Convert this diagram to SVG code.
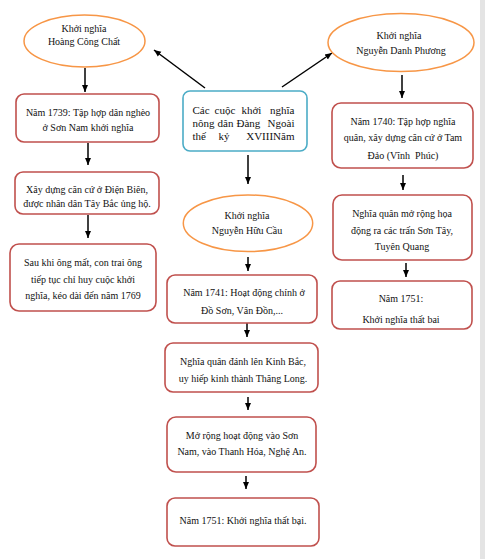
<svg xmlns="http://www.w3.org/2000/svg" width="485" height="559" viewBox="0 0 485 559">
<style>
text{font-family:"Liberation Serif","Times New Roman",serif;font-size:10px;fill:#111;text-anchor:middle}
text.s{text-anchor:start}
text.e{text-anchor:end}
.box{fill:#fff;stroke:#c0504d;stroke-width:1.6}
.ell{fill:#fff;stroke:#f79646;stroke-width:1.5}
.hub{fill:#fff;stroke:#4bacc6;stroke-width:1.6}
.c{stroke:#000;stroke-width:1.5;fill:none;marker-end:url(#ah)}
.big{font-size:11px}
</style>
<defs>
<marker id="ah" markerUnits="userSpaceOnUse" markerWidth="8" markerHeight="8" viewBox="0 0 8 8" refX="7" refY="4" orient="auto">
<path d="M0,1 L7,4 L0,7 Z" fill="#000"/>
</marker>
</defs>
<rect x="0" y="0" width="485" height="559" fill="#fff"/>
<rect x="480" y="0" width="5" height="559" fill="#e4e4e4"/>
<g id="connectors">
<line class="c" x1="205" y1="88" x2="154" y2="50"/>
<line class="c" x1="282" y1="87" x2="332" y2="53"/>
<line class="c" x1="85" y1="68" x2="85" y2="92"/>
<line class="c" x1="88" y1="143" x2="88" y2="165"/>
<line class="c" x1="88" y1="215" x2="88" y2="238"/>
<line class="c" x1="402" y1="75" x2="402" y2="98"/>
<line class="c" x1="403" y1="175" x2="403" y2="190"/>
<line class="c" x1="406" y1="263" x2="406" y2="277"/>
<line class="c" x1="248" y1="155" x2="248" y2="184"/>
<line class="c" x1="248" y1="257" x2="248" y2="271"/>
<line class="c" x1="247" y1="323" x2="247" y2="337"/>
<line class="c" x1="248" y1="397" x2="248" y2="410"/>
<line class="c" x1="246" y1="476" x2="246" y2="489"/>
</g>
<g id="hub">
<rect class="hub" x="183" y="91" width="124" height="60" rx="7"/>
<text class="big s" x="192.5" y="113.5">Các</text>
<text class="big s" x="214.5" y="113.5">cuộc</text>
<text class="big s" x="241.5" y="113.5">khởi</text>
<text class="big e" x="294.5" y="113.5">nghĩa</text>
<text class="big s" x="192.5" y="126.5">nông</text>
<text class="big s" x="217.5" y="126.5">dân</text>
<text class="big s" x="236.5" y="126.5">Đàng</text>
<text class="big e" x="294.5" y="126.5">Ngoài</text>
<text class="big s" x="192.5" y="139.5">thế</text>
<text class="big s" x="218.5" y="139.5">kỷ</text>
<text class="big e" x="294.5" y="139.5">XVIIINăm</text>
</g>
<g id="e-hcc">
<ellipse class="ell" cx="84.5" cy="41" rx="60.5" ry="26"/>
<text x="84" y="32">Khởi nghĩa</text>
<text x="84" y="45">Hoàng Công Chất</text>
</g>
<g id="e-ndp">
<ellipse class="ell" cx="401" cy="42.5" rx="73" ry="29"/>
<text x="399" y="38.5">Khởi nghĩa</text>
<text x="401" y="54">Nguyễn Danh Phương</text>
</g>
<g id="e-nhc">
<ellipse class="ell" cx="248" cy="223.3" rx="64.7" ry="28.3"/>
<text x="247" y="218.5">Khởi nghĩa</text>
<text x="247" y="234">Nguyễn Hữu Cầu</text>
</g>
<g id="b-a">
<rect class="box" x="16" y="94" width="143" height="48" rx="8"/>
<text x="88" y="116">Năm 1739: Tập hợp dân nghèo</text>
<text x="88" y="131">ở Sơn Nam khởi nghĩa</text>
</g>
<g id="b-b">
<rect class="box" x="15" y="172" width="144" height="42" rx="8"/>
<text x="87" y="193">Xây dựng căn cứ ở Điện Biên,</text>
<text x="87" y="207">được nhân dân Tây Bắc ủng hộ.</text>
</g>
<g id="b-c">
<rect class="box" x="10" y="244" width="146" height="67" rx="9"/>
<text x="83" y="266">Sau khi ông mất, con trai ông</text>
<text x="83" y="283">tiếp tục chỉ huy cuộc khởi</text>
<text x="83" y="298.5">nghĩa, kéo dài đến năm 1769</text>
</g>
<g id="b-d">
<rect class="box" x="332" y="103" width="141" height="65" rx="9"/>
<text x="403" y="125">Năm 1740: Tập hợp nghĩa</text>
<text x="403" y="141">quân, xây dựng căn cứ ở Tam</text>
<text x="403" y="158.5" xml:space="preserve">Đảo (Vĩnh  Phúc)</text>
</g>
<g id="b-e">
<rect class="box" x="333" y="195" width="139" height="65" rx="9"/>
<text x="402" y="217">Nghĩa quân mở rộng họa</text>
<text x="402" y="233.5">động ra các trấn Sơn Tây,</text>
<text x="402" y="250">Tuyên Quang</text>
</g>
<g id="b-f">
<rect class="box" x="332" y="281" width="140" height="48" rx="8"/>
<text x="401" y="302">Năm 1751:</text>
<text x="401" y="323">Khởi nghĩa thất bai</text>
</g>
<g id="b-g">
<rect class="box" x="167" y="275" width="150" height="48" rx="8"/>
<text x="244" y="296">Năm 1741: Hoạt động chính ở</text>
<text x="242" y="313.5">Đồ Sơn, Vân Đồn,...</text>
</g>
<g id="b-h">
<rect class="box" x="165" y="343" width="153" height="49" rx="8"/>
<text x="243" y="365">Nghĩa quân đánh lên Kinh Bắc,</text>
<text x="243" y="382">uy hiếp kinh thành Thăng Long.</text>
</g>
<g id="b-i">
<rect class="box" x="167" y="417" width="149" height="55" rx="9"/>
<text x="242" y="438.5">Mở rộng hoạt động vào Sơn</text>
<text x="242" y="455">Nam, vào Thanh Hóa, Nghệ An.</text>
</g>
<g id="b-j">
<rect class="box" x="167" y="498" width="152" height="48" rx="8"/>
<text x="243" y="524">Năm 1751: Khởi nghĩa thất bại.</text>
</g>
</svg>
